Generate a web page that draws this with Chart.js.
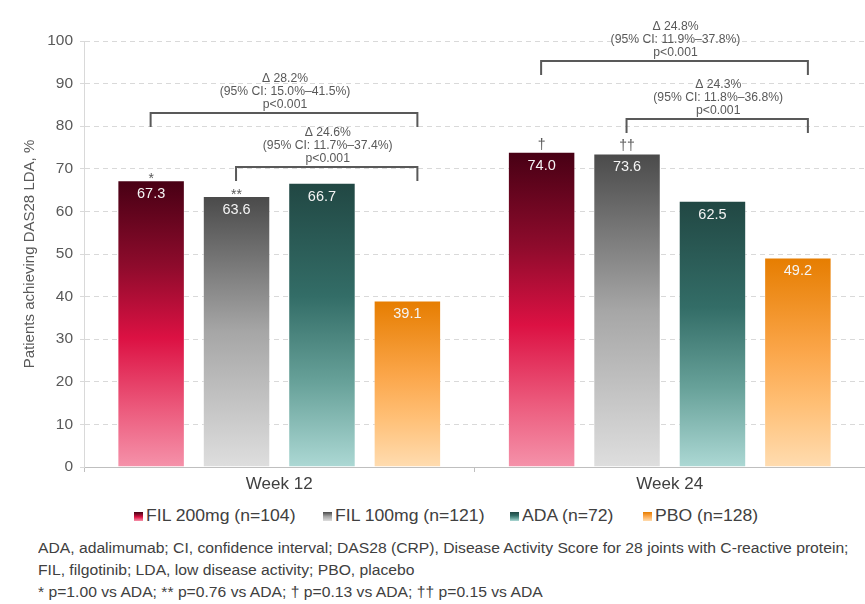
<!DOCTYPE html>
<html>
<head>
<meta charset="utf-8">
<title>DAS28 LDA response</title>
<script src="https://cdn.jsdelivr.net/npm/chart.js@4/dist/chart.umd.min.js"></script>
<style>
  html, body { margin: 0; padding: 0; background: #ffffff; }
  body { font-family: "Liberation Sans", Arial, sans-serif; }
  #page { position: relative; width: 865px; height: 604px; overflow: hidden; }
  #chartBox { position: absolute; left: 0; top: 0; width: 865px; height: 500px; }
  #legend { position: absolute; left: 0; top: 506px; width: 865px; height: 20px; }
  #legend .swatch { position: absolute; top: 6px; width: 9px; height: 9px; }
  #legend .name { position: absolute; top: 0; font-size: 16px; line-height: 20px; color: #404040; white-space: nowrap; transform: scaleX(1.1); transform-origin: left center; }
  #notes { position: absolute; left: 38px; top: 537px; font-size: 14px; line-height: 22px; color: #404040; white-space: nowrap; transform: scaleX(1.12); transform-origin: left top; }
</style>
</head>
<body>
<div id="page">
  <div id="chartBox"><canvas id="chart"></canvas></div>
  <div id="legend"></div>
  <div id="notes">
    <div>ADA, adalimumab; CI, confidence interval; DAS28 (CRP), Disease Activity Score for 28 joints with C-reactive protein;</div>
    <div>FIL, filgotinib; LDA, low disease activity; PBO, placebo</div>
    <div>* p=1.00 vs ADA; ** p=0.76 vs ADA; † p=0.13 vs ADA; †† p=0.15 vs ADA</div>
  </div>
</div>
<script>
// ---- data ----
const categories = ['Week 12', 'Week 24'];
const seriesNames = ['FIL 200mg (n=104)', 'FIL 100mg (n=121)', 'ADA (n=72)', 'PBO (n=128)'];
const fil200 = [67.3, 74.0];
const fil100 = [63.6, 73.6];
const ada = [66.7, 62.5];
const pbo = [39.1, 49.2];
const yTicks = [0, 10, 20, 30, 40, 50, 60, 70, 80, 90, 100];

// significance marks vs ADA, per series and week
const fil200Marks = ['*', '†'];
const fil100Marks = ['**', '††'];
const adaMarks = ['', ''];
const pboMarks = ['', ''];

// pairwise comparisons vs PBO: week index, first series index, last series index
const compWeek = [0, 0, 1, 1];
const compFrom = [0, 1, 0, 1];
const compTo = [3, 3, 3, 3];
const compDelta = ['Δ 28.2%', 'Δ 24.6%', 'Δ 24.8%', 'Δ 24.3%'];
const compCI = ['(95% CI: 15.0%–41.5%)', '(95% CI: 11.7%–37.4%)', '(95% CI: 11.9%–37.8%)', '(95% CI: 11.8%–36.8%)'];
const compP = ['p<0.001', 'p<0.001', 'p<0.001', 'p<0.001'];

// ---- styling ----
const FONT = '"Liberation Sans", Arial, sans-serif';
const gradientStops = [
  [[0, '#470014'], [0.3, '#8e0b2c'], [0.55, '#dc1143'], [0.8, '#ec5b7d'], [1, '#f592aa']],
  [[0, '#4a4a4a'], [0.5, '#a6a6a6'], [1, '#dedede']],
  [[0, '#214743'], [0.4, '#336d67'], [0.7, '#67a199'], [1, '#acd8d4']],
  [[0, '#e67d00'], [0.45, '#fba64a'], [0.7, '#ffbf75'], [1, '#ffdcb0']]
];
const flatColors = ['#b0103a', '#8c8c8c', '#3f7d76', '#f7a040'];
const legendLeft = [134, 323, 510, 643];

// Each bar is shaded from its own top down to the baseline.
function barGradient(i) {
  return (ctx) => {
    const chart = ctx.chart;
    const y = chart.scales && chart.scales.y;
    if (ctx.type !== 'data' || !chart.chartArea || !y) return flatColors[i];
    const top = y.getPixelForValue(ctx.raw);
    const bottom = y.getPixelForValue(0);
    if (!isFinite(top) || !isFinite(bottom) || bottom - top < 1) return flatColors[i];
    const g = chart.ctx.createLinearGradient(0, top, 0, bottom);
    gradientStops[i].forEach(([o, c]) => g.addColorStop(o, c));
    return g;
  };
}

const seriesValues = [fil200, fil100, ada, pbo];
const seriesMarks = [fil200Marks, fil100Marks, adaMarks, pboMarks];

// value labels inside bar tops and significance marks above them
const barLabels = {
  id: 'barLabels',
  afterDatasetsDraw(chart) {
    const c = chart.ctx;
    c.save();
    c.textAlign = 'center';
    c.textBaseline = 'middle';
    chart.data.datasets.forEach((ds, di) => {
      const meta = chart.getDatasetMeta(di);
      meta.data.forEach((bar, j) => {
        c.fillStyle = '#f4f4f4';
        c.font = '14.5px ' + FONT;
        c.fillText(ds.data[j].toFixed(1), bar.x, bar.y + 14);
        const mark = seriesMarks[di][j];
        if (mark) {
          c.fillStyle = '#595959';
          c.font = '14px ' + FONT;
          // asterisks sit high in the em box, daggers are centred
          const dy = mark.indexOf('*') >= 0 ? -1 : -7;
          c.fillText(mark, bar.x, bar.y + dy);
        }
      });
    });
    c.restore();
  }
};

// comparison brackets with their effect estimates
const brackets = {
  id: 'brackets',
  afterDatasetsDraw(chart, args, opts) {
    const c = chart.ctx;
    const y = chart.scales.y;
    c.save();
    c.strokeStyle = '#595959';
    c.lineWidth = 2;
    c.lineCap = 'butt';
    compWeek.forEach((w, k) => {
      const x1 = chart.getDatasetMeta(compFrom[k]).data[w].x - 0.5;
      const x2 = chart.getDatasetMeta(compTo[k]).data[w].x + 10;
      const yTop = y.getPixelForValue(opts.levels[k]);
      const leg = opts.leg;
      c.beginPath();
      c.moveTo(x1, yTop + leg);
      c.lineTo(x1, yTop);
      c.lineTo(x2, yTop);
      c.lineTo(x2, yTop + leg);
      c.stroke();
      const cx = (x1 + x2) / 2 + 1;
      c.fillStyle = '#595959';
      c.font = '12.2px ' + FONT;
      c.textAlign = 'center';
      c.textBaseline = 'middle';
      c.fillText(compDelta[k], cx, yTop - 34.5);
      c.fillText(compCI[k], cx, yTop - 21.5);
      c.fillText(compP[k], cx, yTop - 8);
    });
    c.restore();
  }
};

const chart = new Chart(document.getElementById('chart'), {
  type: 'bar',
  data: {
    labels: categories,
    datasets: seriesNames.map((name, i) => ({
      label: name,
      data: seriesValues[i],
      backgroundColor: barGradient(i),
      borderColor: 'rgba(255,255,255,0.25)',
      borderWidth: 1,
      categoryPercentage: 0.875,
      barPercentage: 0.79
    }))
  },
  options: {
    responsive: true,
    maintainAspectRatio: false,
    animation: false,
    devicePixelRatio: 1,
    layout: { padding: { left: 20, top: 41, right: 0, bottom: 0 } },
    plugins: {
      legend: { display: false },
      tooltip: { enabled: false },
      brackets: { levels: [83.1, 70.4, 95.3, 81.7], leg: 14 }
    },
    scales: {
      x: {
        grid: { display: true, drawOnChartArea: false, drawTicks: true, tickLength: 5, color: '#bfbfbf', offset: true },
        border: { display: true, color: '#bfbfbf', width: 1 },
        ticks: { color: '#404040', font: { size: 17, family: FONT }, padding: 2 },
        afterFit(s) { s.height = 33; }
      },
      y: {
        min: 0,
        max: 100,
        afterBuildTicks(s) { s.ticks = yTicks.map(v => ({ value: v })); },
        ticks: { color: '#595959', font: { size: 15.5, family: FONT }, padding: 7 },
        grid: { color: '#d9d9d9', tickLength: 4, drawTicks: true, tickBorderDash: [4, 3] },
        border: { display: true, color: '#d9d9d9', width: 1, dash: [5, 4] },
        title: {
          display: true,
          text: 'Patients achieving DAS28 LDA, %',
          color: '#595959',
          font: { size: 15, family: FONT },
          padding: { top: 1, bottom: 0 }
        },
        afterFit(s) { s.width = 64; }
      }
    }
  },
  plugins: [barLabels, brackets]
});

// legend row
const legend = document.getElementById('legend');
seriesNames.forEach((name, i) => {
  const sw = document.createElement('span');
  sw.className = 'swatch';
  sw.style.left = legendLeft[i] + 'px';
  sw.style.background = 'linear-gradient(to bottom, ' + gradientStops[i].map(([o, c]) => c + ' ' + (o * 100) + '%').join(', ') + ')';
  const tx = document.createElement('span');
  tx.className = 'name';
  tx.style.left = (legendLeft[i] + 12) + 'px';
  tx.textContent = name;
  legend.appendChild(sw);
  legend.appendChild(tx);
});
</script>
</body>
</html>
